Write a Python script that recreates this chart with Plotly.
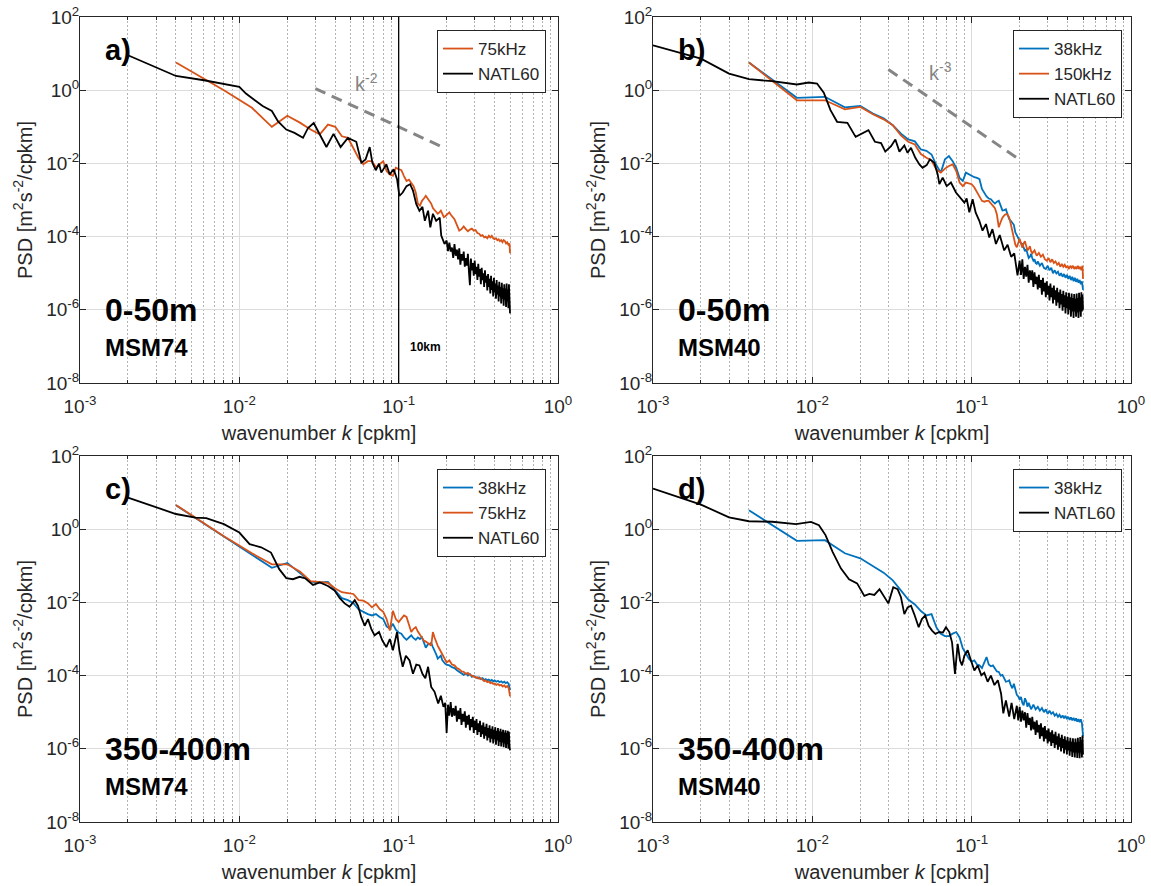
import plotly.graph_objects as go

FONT = "Liberation Sans, Arial, Helvetica, sans-serif"
INK = "#262626"
BLUE = "#0072BD"
ORANGE = "#D95319"
BLACK = "#000000"
GREY = "#858585"

# ---------------- axis ticks ----------------
k_ticks = [1e-3, 1e-2, 1e-1, 1e0]
k_ticktext = ["10<sup>-3</sup>", "10<sup>-2</sup>", "10<sup>-1</sup>", "10<sup>0</sup>"]
k_minor = [0.002, 0.003, 0.004, 0.005, 0.006, 0.007, 0.008, 0.009,
           0.02, 0.03, 0.04, 0.05, 0.06, 0.07, 0.08, 0.09,
           0.2, 0.3, 0.4, 0.5, 0.6, 0.7, 0.8, 0.9]
psd_ticks = [1e-8, 1e-6, 1e-4, 1e-2, 1e0, 1e2]
psd_ticktext = ["10<sup>-8</sup>", "10<sup>-6</sup>", "10<sup>-4</sup>",
                "10<sup>-2</sup>", "10<sup>0</sup>", "10<sup>2</sup>"]

# high-wavenumber grid shared by the model spectra tails
tail_k = [0.200, 0.204, 0.208, 0.212, 0.216, 0.220, 0.224, 0.228, 0.232, 0.236,
          0.240, 0.244, 0.248, 0.252, 0.256, 0.260, 0.264, 0.268, 0.272, 0.276,
          0.280, 0.284, 0.288, 0.292, 0.296, 0.300, 0.304, 0.308, 0.312, 0.316,
          0.320, 0.324, 0.328, 0.332, 0.336, 0.340, 0.344, 0.348, 0.352, 0.356,
          0.360, 0.364, 0.368, 0.372, 0.376, 0.380, 0.384, 0.388, 0.392, 0.396,
          0.400, 0.404, 0.408, 0.412, 0.416, 0.420, 0.424, 0.428, 0.432, 0.436,
          0.440, 0.444, 0.448, 0.452, 0.456, 0.460, 0.464, 0.468, 0.472, 0.476,
          0.480, 0.484, 0.488, 0.492, 0.496, 0.500]

# ---------------- panel a: 0-50m, MSM74 ----------------
a_natl_k = [0.002, 0.004, 0.006, 0.008, 0.010, 0.011, 0.014, 0.016, 0.0175, 0.0197,
            0.0222, 0.0251, 0.027, 0.0293, 0.0319, 0.0352, 0.039, 0.0432, 0.048, 0.0542,
            0.0583, 0.062, 0.0658, 0.0684, 0.0718, 0.0753, 0.0778, 0.0837, 0.0879, 0.093,
            0.0977, 0.101, 0.106, 0.112, 0.118, 0.123, 0.129, 0.135, 0.141, 0.146,
            0.153, 0.158, 0.164, 0.172, 0.181, 0.185, 0.194]
a_natl_psd = [9.0, 2.45, 1.87, 1.5, 1.23, 0.81, 0.37, 0.27, 0.14, 0.084,
              0.068, 0.050, 0.093, 0.127, 0.061, 0.028, 0.064, 0.028, 0.050, 0.039,
              0.0104, 0.0129, 0.028, 0.0104, 0.0065, 0.0098, 0.0056, 0.0094, 0.0050, 0.0069,
              0.0037, 0.0013, 0.0016, 0.0024, 0.0027, 0.0018, 7.7e-4, 5.1e-4, 6.5e-4, 2.7e-4,
              5.1e-4, 1.8e-4, 4.2e-4, 2.7e-4, 3.3e-4, 1.07e-4, 6.3e-5]
a_natl_tail = [7.8e-5, 4.0e-5, 6.8e-5, 3.9e-5, 5.0e-5, 2.6e-5, 6.2e-5, 3.0e-5, 4.4e-5, 2.4e-5,
               4.8e-5, 1.7e-5, 3.3e-5, 2.2e-5, 3.9e-5, 1.5e-5, 2.6e-5, 1.6e-5, 3.4e-5, 1.1e-5,
               4.7e-6, 2.5e-5, 1.2e-5, 1.9e-5, 8.5e-6, 2.2e-5, 9.5e-6, 1.5e-5, 6.5e-6, 1.8e-5,
               8.0e-6, 1.3e-5, 5.0e-6, 1.4e-5, 6.5e-6, 1.0e-5, 4.2e-6, 1.2e-5, 5.5e-6, 8.5e-6,
               3.4e-6, 9.5e-6, 4.2e-6, 7.0e-6, 2.8e-6, 8.5e-6, 3.5e-6, 6.0e-6, 2.3e-6, 7.5e-6,
               3.0e-6, 5.2e-6, 2.0e-6, 6.5e-6, 2.6e-6, 4.6e-6, 1.7e-6, 5.8e-6, 2.3e-6, 4.2e-6,
               1.5e-6, 5.5e-6, 2.0e-6, 3.9e-6, 1.3e-6, 5.0e-6, 1.9e-6, 3.8e-6, 1.2e-6, 5.2e-6,
               1.7e-6, 3.6e-6, 1.1e-6, 5.0e-6, 1.6e-6, 8.0e-7]

a_75_k = [0.004, 0.008, 0.012, 0.016, 0.020, 0.024, 0.028, 0.032, 0.036, 0.040,
          0.044, 0.048, 0.052, 0.056, 0.060, 0.064, 0.068, 0.072, 0.076, 0.080,
          0.084, 0.088, 0.092, 0.096, 0.100, 0.104, 0.108, 0.112, 0.116, 0.120,
          0.124, 0.128, 0.132, 0.136, 0.140, 0.144, 0.148, 0.152, 0.156, 0.160,
          0.164, 0.168, 0.172, 0.176, 0.180, 0.184, 0.188, 0.192, 0.196, 0.200,
          0.204, 0.208, 0.212, 0.216, 0.220, 0.224, 0.228, 0.232, 0.236, 0.240,
          0.248, 0.256, 0.264, 0.272, 0.280, 0.288, 0.296, 0.304, 0.312, 0.320,
          0.328, 0.336, 0.344, 0.352, 0.360, 0.368, 0.376, 0.384, 0.392, 0.400,
          0.408, 0.416, 0.424, 0.432, 0.440, 0.448, 0.456, 0.464, 0.472, 0.480,
          0.488, 0.496, 0.500]
a_75_psd = [5.7, 1.0, 0.33, 0.10, 0.20, 0.13, 0.084, 0.062, 0.115, 0.10,
            0.055, 0.050, 0.026, 0.014, 0.0095, 0.0115, 0.0115, 0.0078, 0.0095, 0.0115,
            0.0062, 0.0050, 0.0046, 0.0076, 0.0070, 0.0065, 0.0045, 0.0033, 0.0036, 0.0030,
            0.0024, 0.0016, 8.0e-4, 7.0e-4, 9.5e-4, 1.1e-3, 1.3e-3, 1.1e-3, 9.5e-4, 8.0e-4,
            6.0e-4, 5.4e-4, 4.6e-4, 4.2e-4, 4.6e-4, 5.1e-4, 4.2e-4, 3.4e-4, 3.6e-4, 4.0e-4,
            4.4e-4, 4.6e-4, 4.0e-4, 3.6e-4, 3.2e-4, 3.0e-4, 2.5e-4, 2.0e-4, 1.7e-4, 1.45e-4,
            1.6e-4, 1.9e-4, 1.6e-4, 1.4e-4, 1.55e-4, 1.65e-4, 1.45e-4, 1.5e-4, 1.25e-4, 1.2e-4,
            1.05e-4, 1.1e-4, 9.5e-5, 1.0e-4, 9.0e-5, 1.05e-4, 9.5e-5, 1.05e-4, 9.0e-5, 8.5e-5,
            9.0e-5, 8.0e-5, 8.5e-5, 7.5e-5, 8.0e-5, 7.0e-5, 8.0e-5, 7.5e-5, 6.5e-5, 7.0e-5,
            6.0e-5, 6.5e-5, 3.5e-5]

# ---------------- panel b: 0-50m, MSM40 ----------------
b_natl_k = [0.001, 0.002, 0.003, 0.004, 0.0056, 0.008, 0.0095, 0.0107, 0.0118, 0.013,
            0.0143, 0.0166, 0.0187, 0.0206, 0.0225, 0.0247, 0.027, 0.0287, 0.0312, 0.0332,
            0.0352, 0.0378, 0.0396, 0.0416, 0.0443, 0.047, 0.0492, 0.0522, 0.0547, 0.0583,
            0.0612, 0.0627, 0.0658, 0.0697, 0.0741, 0.0797, 0.0845, 0.090, 0.093, 0.0967,
            0.1014, 0.106, 0.1117, 0.117, 0.123, 0.129, 0.135, 0.142, 0.150, 0.160,
            0.168, 0.177, 0.185, 0.194]
b_natl_psd = [16.9, 7.3, 2.85, 2.0, 1.76, 1.43, 1.62, 1.52, 0.85, 0.285,
              0.137, 0.128, 0.053, 0.066, 0.081, 0.039, 0.036, 0.021, 0.0295, 0.045,
              0.021, 0.031, 0.0195, 0.0266, 0.0142, 0.0094, 0.0076, 0.0090, 0.0129, 0.0104,
              0.0050, 0.0027, 0.0041, 0.0024, 0.0030, 0.0016, 0.00117, 0.00085, 0.0011, 0.00046,
              0.00105, 4.5e-4, 2.7e-4, 1.45e-4, 2.2e-4, 9.5e-5, 1.6e-4, 6.3e-5, 1.1e-4, 4.2e-5,
              6.0e-5, 2.8e-5, 3.5e-5, 8.7e-6]
b_natl_tail = [2.2e-5, 9.0e-6, 2.4e-5, 7.0e-6, 1.5e-5, 8.0e-6, 1.7e-5, 5.5e-6, 1.2e-5, 6.5e-6,
               1.2e-5, 4.2e-6, 1.05e-5, 5.0e-6, 8.0e-6, 3.6e-6, 9.0e-6, 4.0e-6, 6.5e-6, 2.6e-6,
               7.5e-6, 3.2e-6, 5.5e-6, 2.2e-6, 6.0e-6, 2.6e-6, 4.5e-6, 1.8e-6, 5.2e-6, 2.2e-6,
               4.0e-6, 1.5e-6, 4.6e-6, 1.9e-6, 3.4e-6, 1.3e-6, 4.0e-6, 1.6e-6, 3.0e-6, 1.1e-6,
               3.6e-6, 1.4e-6, 2.7e-6, 9.5e-7, 3.3e-6, 1.2e-6, 2.5e-6, 8.0e-7, 3.0e-6, 1.1e-6,
               2.3e-6, 7.5e-7, 2.9e-6, 1.0e-6, 2.2e-6, 6.5e-7, 2.8e-6, 9.0e-7, 2.1e-6, 6.0e-7,
               2.7e-6, 9.0e-7, 2.0e-6, 6.5e-7, 2.8e-6, 8.5e-7, 2.1e-6, 6.0e-7, 2.9e-6, 9.0e-7,
               2.2e-6, 6.5e-7, 3.0e-6, 9.0e-7, 2.6e-6, 1.0e-6]

b_38_k = [0.004, 0.008, 0.012, 0.016, 0.020, 0.024, 0.028, 0.032, 0.036, 0.040,
          0.044, 0.048, 0.052, 0.056, 0.060, 0.064, 0.068, 0.072, 0.076, 0.080,
          0.084, 0.088, 0.092, 0.096, 0.100, 0.104, 0.108, 0.112, 0.116, 0.120,
          0.124, 0.128, 0.132, 0.136, 0.140, 0.144, 0.148, 0.152, 0.156, 0.160,
          0.164, 0.168, 0.172, 0.176, 0.180, 0.184, 0.188, 0.192, 0.196, 0.200,
          0.204, 0.208, 0.212, 0.216, 0.220, 0.224, 0.228, 0.232, 0.236, 0.240,
          0.244, 0.248, 0.252, 0.256, 0.260, 0.268, 0.276, 0.284, 0.292, 0.300,
          0.308, 0.316, 0.324, 0.332, 0.340, 0.348, 0.356, 0.364, 0.372, 0.380,
          0.388, 0.396, 0.404, 0.412, 0.420, 0.428, 0.436, 0.444, 0.452, 0.460,
          0.468, 0.476, 0.484, 0.492, 0.500]
b_38_psd = [5.7, 0.62, 0.66, 0.34, 0.37, 0.23, 0.17, 0.11, 0.065, 0.045,
            0.040, 0.024, 0.022, 0.0175, 0.0090, 0.0056, 0.0129, 0.0158, 0.0115, 0.0076,
            0.0040, 0.0033, 0.0056, 0.0050, 0.0046, 0.0042, 0.0040, 0.0037, 0.0020, 0.0015,
            0.00125, 0.0011, 0.00105, 0.0009, 0.0008, 0.0009, 0.00095, 0.0007, 0.00052, 0.00053,
            0.00056, 0.0004, 0.0003, 0.00027, 0.00023, 0.00021, 0.00013, 0.00011, 8.7e-5, 7.5e-5,
            6.5e-5, 6.3e-5, 5.0e-5, 4.0e-5, 4.5e-5, 3.3e-5, 2.6e-5, 2.8e-5, 3.4e-5, 2.6e-5,
            2.2e-5, 2.4e-5, 1.9e-5, 1.8e-5, 2.1e-5, 1.6e-5, 1.9e-5, 1.4e-5, 1.3e-5, 1.6e-5,
            1.2e-5, 1.4e-5, 1.0e-5, 1.2e-5, 9.8e-6, 1.1e-5, 8.5e-6, 1.0e-5, 8.0e-6, 9.5e-6,
            7.5e-6, 9.0e-6, 7.0e-6, 8.5e-6, 6.5e-6, 8.0e-6, 6.0e-6, 7.5e-6, 5.8e-6, 7.0e-6,
            5.5e-6, 6.5e-6, 5.0e-6, 6.0e-6, 3.5e-6]

b_150_k = [0.004, 0.008, 0.012, 0.016, 0.020, 0.024, 0.028, 0.032, 0.036, 0.040,
           0.044, 0.048, 0.052, 0.056, 0.060, 0.064, 0.068, 0.072, 0.076, 0.080,
           0.084, 0.088, 0.092, 0.096, 0.100, 0.104, 0.108, 0.112, 0.116, 0.120,
           0.124, 0.128, 0.132, 0.136, 0.140, 0.144, 0.148, 0.152, 0.156, 0.160,
           0.164, 0.168, 0.172, 0.176, 0.180, 0.184, 0.188, 0.192, 0.196, 0.200,
           0.204, 0.208, 0.212, 0.216, 0.220, 0.224, 0.228, 0.232, 0.236, 0.240,
           0.248, 0.256, 0.264, 0.272, 0.280, 0.288, 0.296, 0.304, 0.312, 0.320,
           0.328, 0.336, 0.344, 0.352, 0.360, 0.368, 0.376, 0.384, 0.392, 0.400,
           0.408, 0.416, 0.424, 0.432, 0.440, 0.448, 0.456, 0.464, 0.472, 0.480,
           0.488, 0.496, 0.500]
b_150_psd = [5.7, 0.53, 0.53, 0.30, 0.35, 0.22, 0.16, 0.11, 0.058, 0.039,
             0.033, 0.018, 0.0142, 0.012, 0.0069, 0.0056, 0.0072, 0.0085, 0.0094, 0.0062,
             0.0030, 0.0024, 0.0030, 0.0028, 0.0027, 0.0022, 0.0016, 0.0012, 0.00095, 0.0009,
             0.00095, 0.00095, 0.0008, 0.0007, 0.0006, 0.0004, 0.00018, 0.00025, 0.00033, 0.00038,
             0.00041, 0.0004, 0.00033, 0.00022, 0.000145, 0.0001, 6.0e-5, 5.1e-5, 7.0e-5, 8.7e-5,
             6.5e-5, 5.0e-5, 6.5e-5, 7.5e-5, 5.5e-5, 4.2e-5, 4.7e-5, 5.5e-5, 4.0e-5, 3.5e-5,
             4.2e-5, 3.0e-5, 3.6e-5, 2.8e-5, 3.2e-5, 2.4e-5, 2.2e-5, 2.6e-5, 2.0e-5, 2.4e-5,
             1.9e-5, 2.1e-5, 1.7e-5, 1.9e-5, 1.5e-5, 1.8e-5, 1.5e-5, 1.7e-5, 1.4e-5, 1.6e-5,
             1.3e-5, 1.6e-5, 1.4e-5, 1.6e-5, 1.3e-5, 1.5e-5, 1.3e-5, 1.6e-5, 1.3e-5, 1.5e-5,
             1.2e-5, 1.6e-5, 7.0e-6]

# ---------------- panel c: 350-400m, MSM74 ----------------
c_natl_k = [0.002, 0.004, 0.0053, 0.0062, 0.008, 0.010, 0.0116, 0.0137, 0.0158, 0.0178,
            0.0197, 0.0217, 0.0239, 0.026, 0.029, 0.032, 0.036, 0.0396, 0.0427, 0.0458,
            0.0492, 0.053, 0.0556, 0.0583, 0.0612, 0.0642, 0.0673, 0.0706, 0.0753, 0.079,
            0.0837, 0.088, 0.092, 0.0977, 0.101, 0.106, 0.111, 0.117, 0.123, 0.129,
            0.135, 0.141, 0.147, 0.153, 0.160, 0.168, 0.177, 0.184, 0.191, 0.196]
c_natl_psd = [7.3, 2.6, 2.08, 2.0, 1.37, 0.81, 0.39, 0.32, 0.23, 0.081,
              0.046, 0.043, 0.050, 0.045, 0.030, 0.035, 0.028, 0.021, 0.013, 0.0094,
              0.0076, 0.0115, 0.0081, 0.0039, 0.0023, 0.0035, 0.0019, 0.00126, 0.00155, 0.00091,
              0.0006, 0.001, 0.00049, 0.00155, 0.00049, 0.000174, 0.00035, 0.00026, 0.000112, 0.0002,
              0.00019, 0.000112, 8.5e-5, 0.000174, 4.9e-5, 3.6e-5, 1.74e-5, 2.8e-5, 1.4e-5, 1.8e-5]
c_natl_tail = [2.7e-6, 1.6e-5, 8.0e-6, 1.9e-5, 7.5e-6, 1.3e-5, 8.0e-6, 1.5e-5, 5.5e-6, 1.1e-5,
               6.5e-6, 1.3e-5, 4.5e-6, 9.0e-6, 5.5e-6, 1.05e-5, 3.8e-6, 8.0e-6, 4.6e-6, 8.5e-6,
               3.2e-6, 6.5e-6, 3.9e-6, 7.5e-6, 2.7e-6, 5.8e-6, 3.3e-6, 6.5e-6, 2.4e-6, 5.0e-6,
               2.9e-6, 5.8e-6, 2.1e-6, 4.4e-6, 2.5e-6, 5.2e-6, 1.9e-6, 4.0e-6, 2.3e-6, 4.8e-6,
               1.7e-6, 3.7e-6, 2.0e-6, 4.4e-6, 1.5e-6, 3.5e-6, 1.9e-6, 4.1e-6, 1.4e-6, 3.3e-6,
               1.8e-6, 3.9e-6, 1.3e-6, 3.1e-6, 1.7e-6, 3.7e-6, 1.2e-6, 3.0e-6, 1.55e-6, 3.5e-6,
               1.15e-6, 2.9e-6, 1.5e-6, 3.3e-6, 1.1e-6, 2.8e-6, 1.4e-6, 3.2e-6, 1.05e-6, 2.7e-6,
               1.35e-6, 3.1e-6, 1.0e-6, 2.9e-6, 1.2e-6, 9.0e-7]

c_38_k = [0.004, 0.008, 0.012, 0.016, 0.020, 0.024, 0.028, 0.032, 0.036, 0.040,
          0.044, 0.048, 0.052, 0.056, 0.060, 0.064, 0.068, 0.072, 0.076, 0.080,
          0.084, 0.088, 0.092, 0.096, 0.100, 0.104, 0.108, 0.112, 0.116, 0.120,
          0.124, 0.128, 0.132, 0.136, 0.140, 0.144, 0.148, 0.152, 0.156, 0.160,
          0.164, 0.168, 0.172, 0.176, 0.180, 0.184, 0.188, 0.192, 0.196, 0.200,
          0.208, 0.216, 0.224, 0.232, 0.240, 0.248, 0.256, 0.264, 0.272, 0.280,
          0.288, 0.296, 0.304, 0.312, 0.320, 0.328, 0.336, 0.344, 0.352, 0.360,
          0.368, 0.376, 0.384, 0.392, 0.400, 0.410, 0.420, 0.430, 0.440, 0.450,
          0.460, 0.470, 0.480, 0.490, 0.500]
c_38_psd = [4.5, 0.63, 0.21, 0.088, 0.12, 0.062, 0.037, 0.035, 0.036, 0.021,
            0.013, 0.0115, 0.0095, 0.0065, 0.0054, 0.0048, 0.0044, 0.0048, 0.0040, 0.0035,
            0.0022, 0.0019, 0.0026, 0.0018, 0.0015, 0.0014, 0.0011, 0.00095, 0.0011, 0.00126,
            0.00105, 0.00095, 0.0011, 0.0010, 0.00112, 0.0008, 0.00058, 0.0007, 0.00075, 0.00078,
            0.0006, 0.00049, 0.00038, 0.00029, 0.00033, 0.00035, 0.00026, 0.00023, 0.00021, 0.0002,
            0.00019, 0.00017, 0.00016, 0.00014, 0.000125, 0.000112, 0.000105, 0.000115, 0.0001, 0.00011,
            9.2e-5, 9.8e-5, 9.0e-5, 8.5e-5, 9.0e-5, 8.0e-5, 8.5e-5, 7.6e-5, 8.0e-5, 7.4e-5,
            7.8e-5, 7.2e-5, 7.6e-5, 7.0e-5, 7.4e-5, 6.8e-5, 7.2e-5, 6.6e-5, 7.0e-5, 6.4e-5,
            6.8e-5, 6.2e-5, 6.6e-5, 6.0e-5, 4.0e-5]

c_75_k = [0.004, 0.008, 0.012, 0.016, 0.020, 0.024, 0.028, 0.032, 0.036, 0.040,
          0.044, 0.048, 0.052, 0.056, 0.060, 0.064, 0.068, 0.072, 0.076, 0.080,
          0.084, 0.088, 0.092, 0.096, 0.100, 0.104, 0.108, 0.112, 0.116, 0.120,
          0.124, 0.128, 0.132, 0.136, 0.140, 0.144, 0.148, 0.152, 0.156, 0.160,
          0.164, 0.168, 0.172, 0.176, 0.180, 0.184, 0.188, 0.192, 0.196, 0.200,
          0.208, 0.216, 0.224, 0.232, 0.240, 0.248, 0.256, 0.264, 0.272, 0.280,
          0.288, 0.296, 0.304, 0.312, 0.320, 0.328, 0.336, 0.344, 0.352, 0.360,
          0.368, 0.376, 0.384, 0.392, 0.400, 0.410, 0.420, 0.430, 0.440, 0.450,
          0.460, 0.470, 0.480, 0.490, 0.500]
c_75_psd = [4.6, 0.64, 0.22, 0.11, 0.11, 0.07, 0.038, 0.036, 0.034, 0.024,
            0.019, 0.018, 0.017, 0.0115, 0.0112, 0.0095, 0.0073, 0.009, 0.0066, 0.0055,
            0.0035, 0.0017, 0.0059, 0.0035, 0.0029, 0.0036, 0.0044, 0.0040, 0.0025, 0.00155,
            0.0019, 0.0021, 0.0016, 0.0013, 0.0011, 0.0009, 0.00085, 0.0008, 0.00072, 0.00066,
            0.00155, 0.0011, 0.0008, 0.00065, 0.00054, 0.00045, 0.00037, 0.0003, 0.00026, 0.00023,
            0.00026, 0.0002, 0.00019, 0.00016, 0.00015, 0.00013, 0.000126, 0.00011, 0.000118, 0.000105,
            0.0001, 9.5e-5, 8.8e-5, 9.0e-5, 8.2e-5, 8.5e-5, 7.6e-5, 7.0e-5, 7.4e-5, 6.6e-5,
            6.9e-5, 6.2e-5, 6.5e-5, 5.9e-5, 6.1e-5, 5.6e-5, 5.9e-5, 5.4e-5, 5.6e-5, 5.0e-5,
            5.4e-5, 4.8e-5, 5.2e-5, 4.6e-5, 2.7e-5]

# ---------------- panel d: 350-400m, MSM40 ----------------
d_natl_k = [0.001, 0.002, 0.003, 0.004, 0.0056, 0.0079, 0.0098, 0.011, 0.0121, 0.0134,
            0.0151, 0.017, 0.0191, 0.0212, 0.0228, 0.0245, 0.0264, 0.0283, 0.030, 0.0322,
            0.0343, 0.036, 0.0378, 0.0396, 0.0416, 0.0436, 0.0465, 0.0487, 0.0511, 0.0537,
            0.0564, 0.0592, 0.0627, 0.066, 0.069, 0.0724, 0.0753, 0.0786, 0.0817, 0.0845,
            0.087, 0.090, 0.0944, 0.099, 0.104, 0.109, 0.115, 0.120, 0.126, 0.132,
            0.139, 0.146, 0.153, 0.158, 0.164, 0.172, 0.178, 0.185, 0.192, 0.196]
d_natl_psd = [12.9, 4.7, 2.1, 1.65, 1.6, 1.37, 1.58, 1.29, 0.69, 0.24,
              0.085, 0.043, 0.033, 0.0151, 0.017, 0.016, 0.023, 0.0138, 0.0094, 0.026,
              0.023, 0.0138, 0.0048, 0.0073, 0.0081, 0.0048, 0.0021, 0.0035, 0.0044, 0.0023,
              0.0017, 0.00138, 0.00155, 0.0015, 0.0021, 0.00155, 0.00081, 0.000112, 0.00074, 0.00026,
              0.00019, 0.00035, 0.00049, 0.00026, 0.000138, 0.00019, 0.000102, 0.00012, 6.8e-5, 0.0001,
              5.5e-5, 7.5e-5, 3.2e-5, 9.3e-6, 2.1e-5, 7.6e-6, 1.8e-5, 6.5e-6, 1.5e-5, 6.0e-6]
d_natl_tail = [1.4e-5, 5.5e-6, 1.1e-5, 6.0e-6, 1.0e-5, 3.8e-6, 9.5e-6, 4.5e-6, 7.0e-6, 3.2e-6,
               7.5e-6, 3.4e-6, 5.5e-6, 2.4e-6, 6.0e-6, 2.8e-6, 4.5e-6, 1.9e-6, 5.0e-6, 2.2e-6,
               3.8e-6, 1.6e-6, 4.2e-6, 1.9e-6, 3.2e-6, 1.4e-6, 3.6e-6, 1.6e-6, 2.8e-6, 1.2e-6,
               3.2e-6, 1.45e-6, 2.5e-6, 1.05e-6, 2.9e-6, 1.3e-6, 2.2e-6, 9.5e-7, 2.6e-6, 1.15e-6,
               2.0e-6, 8.5e-7, 2.4e-6, 1.05e-6, 1.85e-6, 7.5e-7, 2.2e-6, 9.5e-7, 1.7e-6, 7.0e-7,
               2.1e-6, 9.0e-7, 1.6e-6, 6.5e-7, 2.0e-6, 8.5e-7, 1.55e-6, 6.0e-7, 1.95e-6, 8.0e-7,
               1.5e-6, 5.8e-7, 1.9e-6, 8.0e-7, 1.5e-6, 5.6e-7, 2.0e-6, 7.8e-7, 1.55e-6, 5.5e-7,
               2.1e-6, 8.0e-7, 1.7e-6, 5.8e-7, 2.3e-6, 7.0e-7]

d_38_k = [0.004, 0.008, 0.012, 0.016, 0.020, 0.024, 0.028, 0.032, 0.036, 0.040,
          0.044, 0.048, 0.052, 0.056, 0.060, 0.064, 0.068, 0.072, 0.076, 0.080,
          0.084, 0.088, 0.092, 0.096, 0.100, 0.104, 0.108, 0.112, 0.116, 0.120,
          0.124, 0.128, 0.132, 0.136, 0.140, 0.144, 0.148, 0.152, 0.156, 0.160,
          0.164, 0.168, 0.172, 0.176, 0.180, 0.184, 0.188, 0.192, 0.196, 0.200,
          0.204, 0.208, 0.212, 0.216, 0.220, 0.224, 0.228, 0.232, 0.236, 0.244,
          0.252, 0.260, 0.268, 0.276, 0.284, 0.292, 0.300, 0.308, 0.316, 0.324,
          0.332, 0.340, 0.348, 0.356, 0.364, 0.372, 0.380, 0.388, 0.396, 0.404,
          0.412, 0.420, 0.428, 0.436, 0.444, 0.452, 0.460, 0.468, 0.476, 0.484,
          0.492, 0.500]
d_38_psd = [3.3, 0.48, 0.50, 0.22, 0.16, 0.10, 0.065, 0.040, 0.022, 0.012,
            0.0088, 0.0058, 0.0044, 0.0048, 0.0021, 0.00138, 0.0012, 0.0012, 0.0014, 0.00155,
            0.0011, 0.00055, 0.0004, 0.00029, 0.00024, 0.00026, 0.0002, 0.00019, 0.00016, 0.00022,
            0.00032, 0.0002, 0.00018, 0.00019, 0.00016, 0.00013, 0.000126, 0.0001, 0.000105, 8.0e-5,
            6.8e-5, 7.0e-5, 7.4e-5, 5.5e-5, 4.5e-5, 6.0e-5, 4.0e-5, 3.0e-5, 2.7e-5, 2.2e-5,
            2.6e-5, 1.8e-5, 1.55e-5, 2.4e-5, 2.0e-5, 1.4e-5, 1.8e-5, 1.5e-5, 1.2e-5, 1.6e-5,
            1.2e-5, 1.4e-5, 1.1e-5, 1.3e-5, 1.0e-5, 1.2e-5, 9.0e-6, 1.1e-5, 9.0e-6, 1.0e-5,
            8.0e-6, 9.0e-6, 7.5e-6, 8.5e-6, 7.0e-6, 8.2e-6, 6.8e-6, 8.0e-6, 6.5e-6, 7.5e-6,
            6.2e-6, 7.2e-6, 6.0e-6, 7.0e-6, 5.8e-6, 6.8e-6, 5.5e-6, 6.5e-6, 5.3e-6, 6.4e-6,
            5.0e-6, 2.2e-6]

# ---------------- reference slopes and scale marker ----------------
slope2_k = [0.03, 0.182]
slope2_psd = [1.11, 0.030]
slope3_k = [0.03, 0.2]
slope3_psd = [3.7, 0.0125]
k_10km = 0.1

# ---------------- figure ----------------
W, H = 1151, 886
col_dom = [[80 / W, 558 / W], [653 / W, 1131 / W]]
row_dom = [[1 - 383 / H, 1 - 17 / H], [1 - 822 / H, 1 - 456 / H]]

fig = go.Figure()


def line(k, psd, color, name, ax, legend, show=True, width=1.8, dash=None):
    fig.add_trace(go.Scatter(
        x=k, y=psd, mode="lines", name=name,
        line=dict(color=color, width=width, dash=dash),
        xaxis="x" + ax, yaxis="y" + ax, legend=legend, showlegend=show,
        hoverinfo="skip"))


# panel a
line(a_75_k, a_75_psd, ORANGE, "75kHz", "", "legend")
line(a_natl_k + tail_k, a_natl_psd + a_natl_tail, BLACK, "NATL60", "", "legend")
line(slope2_k, slope2_psd, GREY, "k-2", "", "legend", show=False, width=3, dash="11px,7px")
# panel b
line(b_38_k, b_38_psd, BLUE, "38kHz", "2", "legend2")
line(b_150_k, b_150_psd, ORANGE, "150kHz", "2", "legend2")
line(b_natl_k + tail_k, b_natl_psd + b_natl_tail, BLACK, "NATL60", "2", "legend2")
line(slope3_k, slope3_psd, GREY, "k-3", "2", "legend2", show=False, width=3, dash="11px,7px")
# panel c
line(c_38_k, c_38_psd, BLUE, "38kHz", "3", "legend3")
line(c_75_k, c_75_psd, ORANGE, "75kHz", "3", "legend3")
line(c_natl_k + tail_k, c_natl_psd + c_natl_tail, BLACK, "NATL60", "3", "legend3")
# panel d
line(d_38_k, d_38_psd, BLUE, "38kHz", "4", "legend4")
line(d_natl_k + tail_k, d_natl_psd + d_natl_tail, BLACK, "NATL60", "4", "legend4")

tickfont = dict(family=FONT, size=19, color=INK)
titlefont = dict(family=FONT, size=20, color=INK)

layout = dict(
    width=W, height=H, margin=dict(l=0, r=0, t=0, b=0),
    paper_bgcolor="white", plot_bgcolor="white",
    font=dict(family=FONT, color=INK),
    showlegend=True,
)

for i, (r, c) in enumerate([(0, 0), (0, 1), (1, 0), (1, 1)]):
    sfx = "" if i == 0 else str(i + 1)
    layout["xaxis" + sfx] = dict(
        type="log", range=[-3, 0], domain=col_dom[c], anchor="y" + sfx,
        tickmode="array", tickvals=k_ticks, ticktext=k_ticktext,
        ticks="inside", ticklen=6, tickwidth=1, tickcolor=INK,
        showline=True, linecolor=INK, linewidth=1, mirror="ticks",
        showgrid=True, gridcolor="#dcdcdc", gridwidth=1, zeroline=False,
        tickfont=tickfont, automargin=False, ticklabelstandoff=6,
        title=dict(text="wavenumber <i>k</i> [cpkm]", font=titlefont, standoff=10),
        minor=dict(tickmode="array", tickvals=k_minor, ticks="inside", ticklen=3,
                   tickcolor=INK, tickwidth=1, showgrid=True,
                   gridcolor="#b4b4b4", griddash="2px,2px", gridwidth=1),
    )
    layout["yaxis" + sfx] = dict(
        type="log", range=[-8, 2], domain=row_dom[r], anchor="x" + sfx,
        tickmode="array", tickvals=psd_ticks, ticktext=psd_ticktext,
        ticks="inside", ticklen=6, tickwidth=1, tickcolor=INK,
        showline=True, linecolor=INK, linewidth=1, mirror="ticks",
        showgrid=True, gridcolor="#dcdcdc", gridwidth=1, zeroline=False,
        tickfont=tickfont, automargin=False, ticklabelstandoff=-4,
        title=dict(text="PSD [m<sup>2</sup>s<sup>-2</sup>/cpkm]", font=titlefont, standoff=8),
    )

legend_pos = [(546 / W, 1 - 30 / H), (1122 / W, 1 - 30 / H),
              (546 / W, 1 - 469 / H), (1122 / W, 1 - 469 / H)]
for i, (lx, ly) in enumerate(legend_pos):
    key = "legend" if i == 0 else "legend" + str(i + 1)
    layout[key] = dict(
        x=lx, y=ly, xanchor="right", yanchor="top", xref="paper", yref="paper",
        bgcolor="white", bordercolor=INK, borderwidth=1,
        font=dict(family=FONT, size=17, color=INK),
        itemwidth=30, tracegroupgap=0, itemclick=False,
    )

fig.update_layout(**layout)

# panel annotations
panel_text = [("a)", "0-50m", "MSM74"), ("b)", "0-50m", "MSM40"),
              ("c)", "350-400m", "MSM74"), ("d)", "350-400m", "MSM40")]
for i, (tag, depth, cruise) in enumerate(panel_text):
    sfx = "" if i == 0 else str(i + 1)
    xr, yr = "x" + sfx + " domain", "y" + sfx + " domain"
    fig.add_annotation(text="<b>" + tag + "</b>", xref=xr, yref=yr, x=0.048, y=0.91,
                       xanchor="left", yanchor="middle", showarrow=False,
                       font=dict(family=FONT, size=29, color=BLACK))
    fig.add_annotation(text="<b>" + depth + "</b>", xref=xr, yref=yr, x=0.048, y=0.20,
                       xanchor="left", yanchor="middle", showarrow=False,
                       font=dict(family=FONT, size=32, color=BLACK))
    fig.add_annotation(text="<b>" + cruise + "</b>", xref=xr, yref=yr, x=0.048, y=0.097,
                       xanchor="left", yanchor="middle", showarrow=False,
                       font=dict(family=FONT, size=24, color=BLACK))

# 10 km marker in panel a
fig.add_shape(type="line", xref="x", yref="y domain", x0=k_10km, x1=k_10km, y0=0, y1=1,
              line=dict(color=BLACK, width=1.3))
fig.add_annotation(text="<b>10km</b>", xref="x domain", yref="y domain", x=0.687, y=0.097,
                   xanchor="left", yanchor="middle", showarrow=False,
                   font=dict(family=FONT, size=12, color=BLACK))

# slope labels
fig.add_annotation(text="k<sup>-2</sup>", xref="x domain", yref="y domain", x=0.572, y=0.82,
                   xanchor="left", yanchor="middle", showarrow=False,
                   font=dict(family=FONT, size=20, color=GREY))
fig.add_annotation(text="k<sup>-3</sup>", xref="x2 domain", yref="y2 domain", x=0.573, y=0.85,
                   xanchor="left", yanchor="middle", showarrow=False,
                   font=dict(family=FONT, size=20, color=GREY))

fig.write_html("out.html")
